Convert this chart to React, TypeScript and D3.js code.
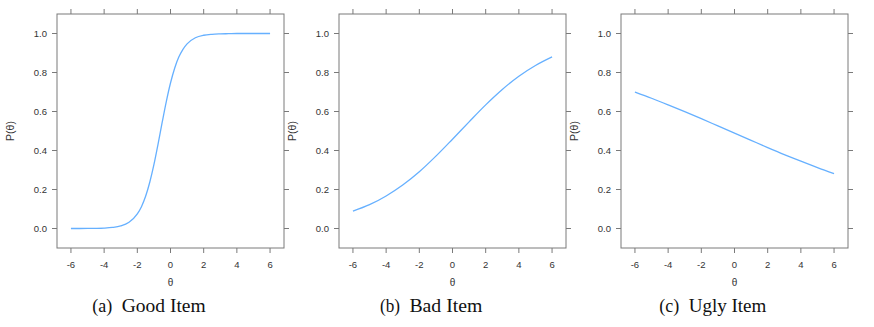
import React from "react";
import * as d3 from "d3";

const goodTheta = [-6, -5.5, -5, -4.5, -4, -3.5, -3, -2.5, -2, -1.75, -1.5, -1.25, -1, -0.75, -0.5, -0.25, 0, 0.25, 0.5, 0.75, 1, 1.5, 2, 2.5, 3, 3.5, 4, 5, 6];
const goodP = [0.0, 0.0001, 0.0004, 0.0009, 0.0022, 0.0054, 0.013, 0.032, 0.075, 0.112, 0.165, 0.237, 0.327, 0.433, 0.545, 0.652, 0.746, 0.822, 0.879, 0.919, 0.947, 0.978, 0.991, 0.996, 0.998, 0.999, 1.0, 1.0, 1.0];

const badTheta = [-6, -5, -4, -3, -2, -1, 0, 1, 2, 3, 4, 5, 6];
const badP = [0.089, 0.122, 0.167, 0.223, 0.291, 0.371, 0.458, 0.547, 0.634, 0.713, 0.781, 0.836, 0.88];

const uglyTheta = [-6, -5, -4, -3, -2, -1, 0, 1, 2, 3, 4, 5, 6];
const uglyP = [0.7, 0.668, 0.634, 0.599, 0.563, 0.526, 0.489, 0.452, 0.415, 0.379, 0.345, 0.312, 0.281];

const xTicks = [-6, -4, -2, 0, 2, 4, 6];
const yTicks = [0, 0.2, 0.4, 0.6, 0.8, 1.0];
const captionLabels = ["(a)", "(b)", "(c)"];
const captionTitles = ["Good Item", "Bad Item", "Ugly Item"];

const panels = [
  { theta: goodTheta, p: goodP },
  { theta: badTheta, p: badP },
  { theta: uglyTheta, p: uglyP },
];

const BOX_W = 227;
const BOX_TOP = 14;
const BOX_BOTTOM = 248;
const LEFTS = [57, 339, 621];
const CAP_LEFTS = [92.3, 380, 659.3];
const TITLE_W = [84, 73, 77.7];
const AXIS = "#7a7a7a";
const TEXT = "#333";
const LINE = "#66b0ff";
const SANS = "'Liberation Sans', Arial, sans-serif";
const SERIF = "'Liberation Serif', 'Times New Roman', serif";

function Panel({ idx }: { idx: number }) {
  const left = LEFTS[idx];
  const x = d3.scaleLinear().domain([-6.84, 6.84]).range([left, left + BOX_W]);
  const y = d3.scaleLinear().domain([-0.1, 1.1]).range([BOX_BOTTOM, BOX_TOP]);
  const { theta, p } = panels[idx];
  const pts: [number, number][] = theta.map((t, i) => [t, p[i]]);
  const line = d3
    .line<[number, number]>()
    .x((d) => x(d[0]))
    .y((d) => y(d[1]))
    .curve(d3.curveMonotoneX);
  const tl = 5;
  const cx = left + BOX_W / 2;
  const capX = CAP_LEFTS[idx];
  return (
    <g>
      <rect x={left} y={BOX_TOP} width={BOX_W} height={BOX_BOTTOM - BOX_TOP} fill="none" stroke={AXIS} strokeWidth={1} />
      {xTicks.map((t) => (
        <g key={"x" + t}>
          <line x1={x(t)} x2={x(t)} y1={BOX_TOP} y2={BOX_TOP - tl} stroke={AXIS} />
          <line x1={x(t)} x2={x(t)} y1={BOX_BOTTOM} y2={BOX_BOTTOM + tl} stroke={AXIS} />
          <text x={x(t)} y={268} textAnchor="middle" fontFamily={SANS} fontSize={9.5} fill={TEXT}>
            {t}
          </text>
        </g>
      ))}
      {yTicks.map((t) => (
        <g key={"y" + t}>
          <line x1={left} x2={left - tl} y1={y(t)} y2={y(t)} stroke={AXIS} />
          <line x1={left + BOX_W} x2={left + BOX_W + tl} y1={y(t)} y2={y(t)} stroke={AXIS} />
          <text x={left - 10} y={y(t) + 3.4} textAnchor="end" fontFamily={SANS} fontSize={9.5} fill={TEXT}>
            {t.toFixed(1)}
          </text>
        </g>
      ))}
      <path d={line(pts) || ""} fill="none" stroke={LINE} strokeWidth={1.3} />
      <text x={cx} y={286} textAnchor="middle" fontFamily={SANS} fontSize={10} fill={TEXT}>
        θ
      </text>
      <text
        transform={`translate(${left - 43},${(BOX_TOP + BOX_BOTTOM) / 2}) rotate(-90)`}
        textAnchor="middle"
        fontFamily={SANS}
        fontSize={10.5}
        fill={TEXT}
      >
        P(θ)
      </text>
      <text x={capX} y={312} fontFamily={SERIF} fontSize={18} fill="#111" textLength={20} lengthAdjust="spacingAndGlyphs">
        {captionLabels[idx]}
      </text>
      <text x={capX + 29.4} y={312} fontFamily={SERIF} fontSize={18} fill="#111" textLength={TITLE_W[idx]} lengthAdjust="spacingAndGlyphs">
        {captionTitles[idx]}
      </text>
    </g>
  );
}

export default function App() {
  return (
    <svg width={874} height={327} style={{ position: "absolute", left: 0, top: 0, background: "#fff" }}>
      <rect x={0} y={0} width={874} height={327} fill="#fff" />
      {[0, 1, 2].map((i) => (
        <Panel key={i} idx={i} />
      ))}
    </svg>
  );
}
